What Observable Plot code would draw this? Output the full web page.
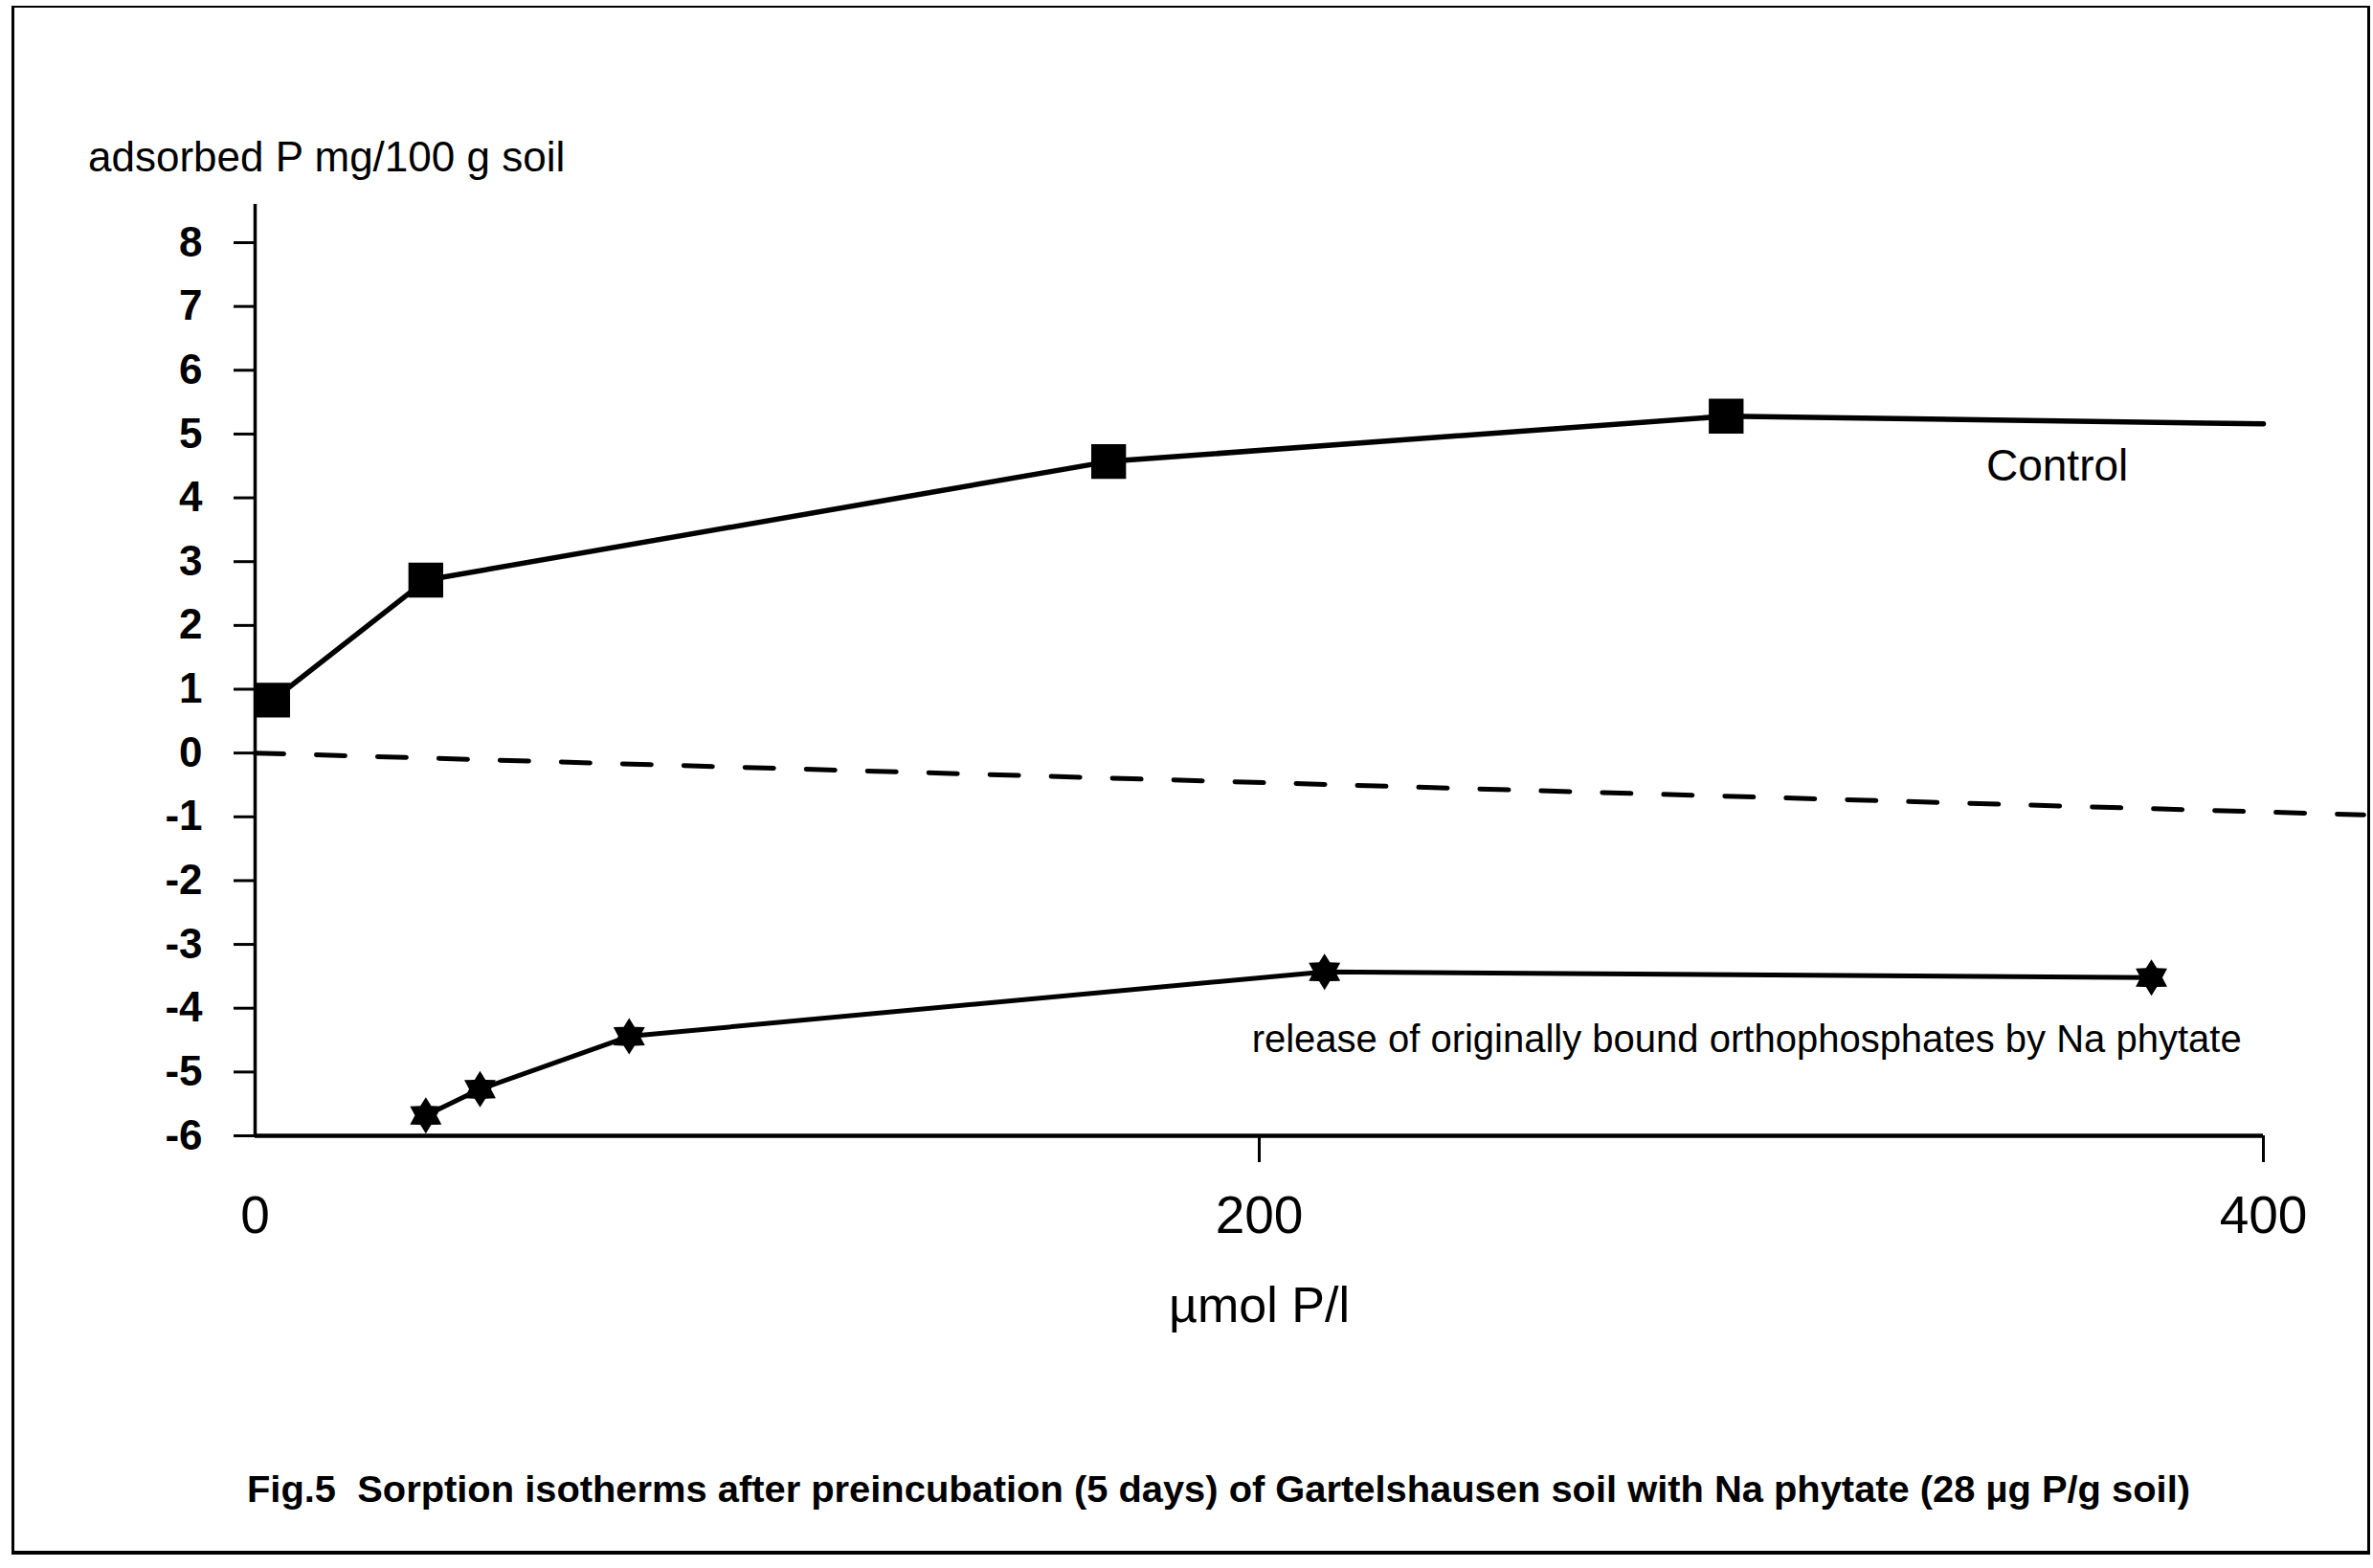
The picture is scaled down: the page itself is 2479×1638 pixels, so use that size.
<!DOCTYPE html>
<html>
<head>
<meta charset="utf-8">
<script src="https://cdn.jsdelivr.net/npm/d3@7"></script>
<script src="https://cdn.jsdelivr.net/npm/@observablehq/plot@0.6"></script>
<style>
  html, body { margin: 0; padding: 0; background: #fff; }
  #page { position: relative; width: 2479px; height: 1638px; overflow: hidden; background: #fff;
          font-family: "Liberation Sans", Arial, sans-serif; color: #000; }
  #frame { position: absolute; left: 12px; top: 6px; width: 2458px; height: 1612px;
           border-left: 3px solid #000; border-right: 3px solid #000; border-bottom: 4px solid #000; border-top: 2px solid #000; }
  #chart { position: absolute; left: 0; top: 0; }
  #ylabel { position: absolute; left: 92px; top: 142px; font-size: 44px; line-height: 1; white-space: pre; }
  #caption { position: absolute; left: 258px; top: 1536px; font-size: 39px; font-weight: bold; line-height: 1;
             white-space: pre; transform-origin: 0 0; }
</style>
</head>
<body>
<div id="page">
  <div id="frame"></div>
  <div id="chart"></div>
  <div id="ylabel">adsorbed P mg/100 g soil</div>
  <div id="caption"><span id="capText">Fig.5  Sorption isotherms after preincubation (5 days) of Gartelshausen soil with Na phytate (28 µg P/g soil)</span></div>
</div>
<script>
// ---- data ----
const controlX = [3.5, 34, 170, 293];
const controlY = [0.83, 2.71, 4.57, 5.28];
const controlLineX = [3.5, 34, 170, 293, 400];
const controlLineY = [0.83, 2.71, 4.57, 5.28, 5.16];

const phytateX = [34, 44.8, 74.5, 213, 377.7];
const phytateY = [-5.68, -5.27, -4.44, -3.43, -3.52];

const zeroLineX = [0, 420];
const zeroLineY = [0, -0.97];

const yTicks = [-6, -5, -4, -3, -2, -1, 0, 1, 2, 3, 4, 5, 6, 7, 8];
const xTicks = [0, 200, 400];
const xTickMarks = [200, 400];

const labelText = ["Control", "release of originally bound orthophosphates by Na phytate"];
const labelX = [344.8, 198.5];
const labelY = [4.49, -4.50];

const xTitle = "µmol P/l";

// ---- build tables ----
const control = controlX.map((x, i) => ({x, y: controlY[i]}));
const controlLine = controlLineX.map((x, i) => ({x, y: controlLineY[i]}));
const phytate = phytateX.map((x, i) => ({x, y: phytateY[i]}));
const zeroLine = zeroLineX.map((x, i) => ({x, y: zeroLineY[i]}));
const labels = labelText.map((t, i) => ({text: t, x: labelX[i], y: labelY[i]}));

// six-pointed star symbol
const hexagram = {
  draw(context, size) {
    const R = Math.sqrt(size / Math.PI);
    const r = R * 0.6;
    for (let i = 0; i < 12; i++) {
      const a = -Math.PI / 2 + i * Math.PI / 6;
      const rad = i % 2 === 0 ? R : r;
      const px = rad * Math.cos(a), py = rad * Math.sin(a);
      if (i === 0) context.moveTo(px, py); else context.lineTo(px, py);
    }
    context.closePath();
  }
};

const H = 1450;
const chart = Plot.plot({
  width: 2479,
  height: H,
  marginTop: 253,
  marginBottom: H - 1186,
  marginLeft: 266,
  marginRight: 115,
  x: {domain: [0, 400]},
  y: {domain: [-6, 8]},
  style: {fontFamily: "'Liberation Sans', Arial, sans-serif", color: "#000", background: "transparent", overflow: "visible"},
  marks: [
    Plot.axisY({ticks: yTicks, tickSize: 22, tickPadding: 33, fontSize: 44, fontWeight: "bold",
                tickFormat: d => String(d), strokeWidth: 3, label: null}),
    Plot.axisX({ticks: xTicks, tickSize: 0, tickPadding: 62, fontSize: 55,
                tickFormat: d => String(d), label: null}),
    Plot.axisX({ticks: xTickMarks, tickSize: 28, tickFormat: () => "", strokeWidth: 3, label: null}),
    Plot.ruleX([0], {y1: -6, y2: 8.6, strokeWidth: 3.5}),
    Plot.ruleY([-6], {x1: 0, x2: 400, strokeWidth: 4.5}),
    Plot.line(zeroLine, {x: "x", y: "y", strokeWidth: 5, strokeDasharray: "30,34"}),
    Plot.line(controlLine, {x: "x", y: "y", strokeWidth: 5.5}),
    Plot.dot(control, {x: "x", y: "y", symbol: "square", r: 20.5, fill: "#000", stroke: null}),
    Plot.line(phytate, {x: "x", y: "y", strokeWidth: 5}),
    Plot.dot(phytate, {x: "x", y: "y", symbol: hexagram, r: 19, fill: "#000", stroke: null}),
    Plot.text(labels.slice(0, 1), {x: "x", y: "y", text: "text", textAnchor: "start", fontSize: 46}),
    Plot.text(labels.slice(1), {x: "x", y: "y", text: "text", textAnchor: "start", fontSize: 40}),
    Plot.text([xTitle], {frameAnchor: "bottom", dy: 194, fontSize: 52})
  ]
});
document.getElementById("chart").appendChild(chart);

// condense caption to the width seen in the figure
const cap = document.getElementById("capText");
const w = cap.getBoundingClientRect().width;
document.getElementById("caption").style.transform = `scaleX(${2030 / w})`;
</script>
</body>
</html>
